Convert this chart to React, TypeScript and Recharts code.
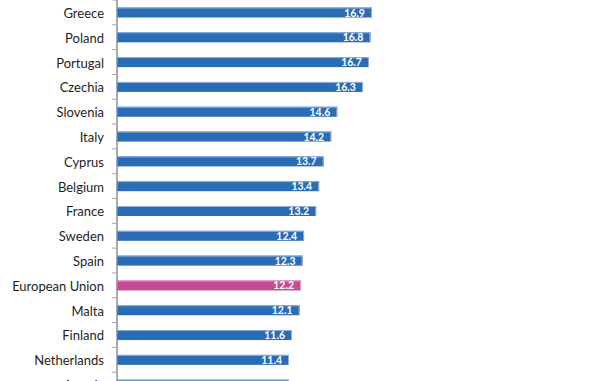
import React from 'react';
import { BarChart, Bar, XAxis, YAxis, CartesianGrid, Cell, LabelList } from 'recharts';

const countries = ['Greece', 'Poland', 'Portugal', 'Czechia', 'Slovenia', 'Italy', 'Cyprus', 'Belgium', 'France', 'Sweden', 'Spain', 'European Union', 'Malta', 'Finland', 'Netherlands', 'Austria'];
const values = [16.9, 16.8, 16.7, 16.3, 14.6, 14.2, 13.7, 13.4, 13.2, 12.4, 12.3, 12.2, 12.1, 11.6, 11.4, 11.4];
const xTicks = [0, 5, 10, 15, 20, 25, 30, 35];

const data = countries.map((name, i) => ({ name, value: values[i] }));

const PLOT_H = 397;
const BAND = PLOT_H / countries.length;
const BLUE = '#2a6cb5';
const BLUE_EDGE = '#8fb1dc';
const PINK = '#c74b93';
const PINK_EDGE = '#e3a3c8';
const FONT = 'Lato, "Liberation Sans", Arial, sans-serif';

const CatTick = (props: any) => {
  const { x, y, payload } = props;
  return (
    <g>
      <line x1={x - 5} x2={x} y1={y - BAND / 2} y2={y - BAND / 2} stroke="#a6a6a6" strokeWidth={1} />
      <text x={x - 13} y={y} dy={5.5} textAnchor="end" fontSize={13} fill="#1e1e1e" fontFamily={FONT}>
        {payload.value}
      </text>
    </g>
  );
};

const BarShape = (props: any) => {
  const { x, y, width, height, fill, payload } = props;
  const edge = payload && payload.name === 'European Union' ? PINK_EDGE : BLUE_EDGE;
  return (
    <g>
      <rect x={x} y={y + 0.5} width={width} height={height} fill={fill} />
      <rect x={x} y={y + 0.5} width={width} height={1} fill={edge} />
      <rect x={x + width - 1} y={y + 0.5} width={1} height={height} fill={edge} />
    </g>
  );
};

const ValueLabel = (props: any) => {
  const { x, y, width, height, value } = props;
  return (
    <text
      x={x + width - 7}
      y={y + height / 2 + 0.5}
      dy={4}
      textAnchor="end"
      fill="#fff"
      fontSize={10.5}
      fontWeight="bold"
      fontFamily={FONT}
    >
      {Number(value).toFixed(1)}
    </text>
  );
};

export default function App() {
  return (
    <div style={{ position: 'absolute', left: 0, top: 0, width: 600, height: 381, overflow: 'hidden', background: '#fff' }}>
      <BarChart
        width={650}
        height={PLOT_H + 30}
        data={data}
        layout="vertical"
        margin={{ top: 0, right: 5, bottom: 0, left: 0 }}
        barCategoryGap={0}
      >
        <CartesianGrid horizontal={false} vertical={true} stroke="#d4d4d4" strokeWidth={1.3} />
        <XAxis type="number" domain={[0, 35]} ticks={xTicks} height={30} axisLine={false} tickLine={false} tick={false} />
        <YAxis
          type="category"
          dataKey="name"
          width={117}
          tickSize={0}
          tickMargin={0}
          tick={<CatTick />}
          axisLine={{ stroke: '#8c8c8c', strokeWidth: 1.3 }}
          tickLine={false}
          interval={0}
        />
        <Bar dataKey="value" barSize={10} isAnimationActive={false} shape={<BarShape />}>
          {data.map((d, i) => (
            <Cell key={i} fill={d.name === 'European Union' ? PINK : BLUE} />
          ))}
          <LabelList dataKey="value" content={<ValueLabel />} />
        </Bar>
      </BarChart>
    </div>
  );
}
